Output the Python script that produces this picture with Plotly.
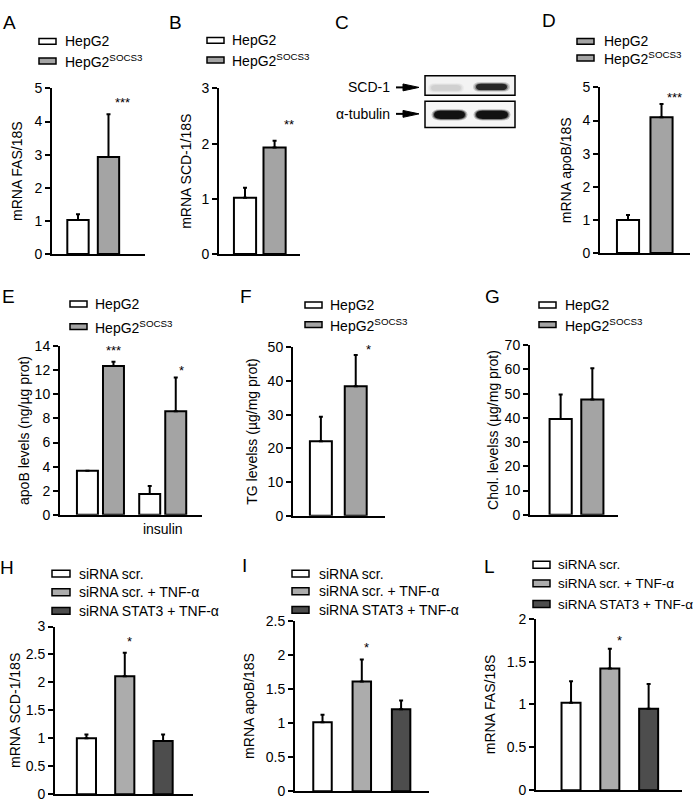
import plotly.graph_objects as go

W, H = 700, 811
FONT = "Liberation Sans, Arial, sans-serif"

# ---------------- data ----------------
cells = ["HepG2", "HepG2<sup>SOCS3</sup>"]
fas_mean = [1.03, 2.93]
fas_err = [0.17, 1.29]
scd_mean = [1.02, 1.93]
scd_err = [0.18, 0.12]
apob_mrna_mean = [1.00, 4.10]
apob_mrna_err = [0.15, 0.40]
conditions = ["basal", "insulin"]
condition_labels = ["", "insulin"]
apob_hepg2 = [3.66, 1.72]
apob_hepg2_err = [0.0, 0.68]
apob_socs3 = [12.35, 8.60]
apob_socs3_err = [0.35, 2.80]
tg_mean = [22.1, 38.4]
tg_err = [7.3, 9.3]
chol_mean = [39.5, 47.6]
chol_err = [10.2, 12.9]
treatments = ["siRNA scr.", "siRNA scr. + TNF-α", "siRNA STAT3 + TNF-α"]
si_scd_mean = [1.00, 2.11, 0.95]
si_scd_err = [0.07, 0.42, 0.12]
si_apob_mean = [1.01, 1.61, 1.20]
si_apob_err = [0.11, 0.32, 0.13]
si_fas_mean = [1.02, 1.42, 0.95]
si_fas_err = [0.25, 0.23, 0.29]

# ---------------- styles ----------------
C_WHITE = "#ffffff"
C_GRAY = "#a4a4a4"
C_GRAY2 = "#acacac"
C_DARK = "#4d4d4d"
cell_colors = [C_WHITE, C_GRAY]
treat_colors = [C_WHITE, C_GRAY2, C_DARK]


def X(p):
    return p / W


def Y(p):
    return 1 - p / H


fig = go.Figure()
shapes = []
annotations = []
axis_n = [0]


def bar(cats, vals, errs, color, width, offset=None):
    kw = {}
    if offset is not None:
        kw["offset"] = offset
    return go.Bar(
        x=cats, y=vals, width=width,
        marker=dict(color=color, line=dict(color="black", width=2)),
        error_y=dict(type="data", array=errs, arrayminus=[0] * len(errs),
                     symmetric=False, color="black", thickness=2, width=2),
        showlegend=False, hoverinfo="skip", **kw)


def add_panel(traces, xl, xr, ytop, y0, xrange, ymax, dtick, ytitle, standoff,
              cats, ticktext=None):
    axis_n[0] += 1
    n = axis_n[0]
    sfx = "" if n == 1 else str(n)
    xa, ya = "x" + sfx, "y" + sfx
    for t in traces:
        t.update(xaxis=xa, yaxis=ya)
        fig.add_trace(t)
    xdict = dict(domain=[X(xl), X(xr)], anchor=ya, range=xrange,
                 type="category", categoryorder="array", categoryarray=cats,
                 showline=True, linewidth=2, linecolor="black", ticks="",
                 showgrid=False, zeroline=False, fixedrange=True,
                 showticklabels=ticktext is not None,
                 tickfont=dict(size=14, color="black"))
    if ticktext is not None:
        xdict.update(tickmode="array", tickvals=cats, ticktext=ticktext)
    ydict = dict(domain=[Y(y0), Y(ytop)], anchor=xa, range=[0, ymax],
                 tick0=0, dtick=dtick, showline=True, linewidth=2,
                 linecolor="black", ticks="outside", ticklen=5, tickwidth=2,
                 tickcolor="black", showgrid=False, zeroline=False,
                 fixedrange=True, tickfont=dict(size=14, color="black"),
                 title=dict(text=ytitle, font=dict(size=14, color="black"),
                            standoff=standoff))
    fig.update_layout(**{"xaxis" + sfx: xdict, "yaxis" + sfx: ydict})
    return xa, ya


def star(xa, ya, cat, yv, text, xshift):
    annotations.append(dict(xref=xa, yref=ya, x=cat, y=yv, text=text,
                            showarrow=False, xshift=xshift,
                            font=dict(size=13, color="black")))


def legend(x_box, x_text, rows, labels, colors, bw=17, bh=6, fs=14):
    for yc, lab, col in zip(rows, labels, colors):
        shapes.append(dict(type="rect", xref="paper", yref="paper",
                           x0=X(x_box), x1=X(x_box + bw),
                           y0=Y(yc + bh / 2), y1=Y(yc - bh / 2),
                           fillcolor=col, line=dict(color="black", width=1.5)))
        annotations.append(dict(xref="paper", yref="paper", x=X(x_text),
                                y=Y(yc), text=lab, showarrow=False,
                                xanchor="left", yanchor="middle",
                                font=dict(size=fs, color="black")))


def letter(x, y, t):
    annotations.append(dict(xref="paper", yref="paper", x=X(x), y=Y(y),
                            text=t, showarrow=False, xanchor="center",
                            yanchor="middle",
                            font=dict(size=19, color="black")))


# ---------------- panel A ----------------
xa, ya = add_panel([bar([cells[i]], [fas_mean[i]], [fas_err[i]], cell_colors[i], 0.70)
                    for i in range(2)],
                   52, 145, 82, 251, [-0.852, 2.197], 5, 1, "mRNA FAS/18S", 8, cells)
star(xa, ya, cells[1], 4.56, "***", 14)
legend(39, 63, [34, 54], cells, cell_colors)
letter(9, 15, "A")

# ---------------- panel B ----------------
xa, ya = add_panel([bar([cells[i]], [scd_mean[i]], [scd_err[i]], cell_colors[i], 0.75)
                    for i in range(2)],
                   219, 300, 82, 251, [-0.88, 1.86], 3, 1, "mRNA SCD-1/18S", 6, cells)
star(xa, ya, cells[1], 2.35, "**", 14)
legend(207, 230, [33, 53], cells, cell_colors)
letter(175, 15, "B")

# ---------------- panel D ----------------
xa, ya = add_panel([bar([cells[i]], [apob_mrna_mean[i]], [apob_mrna_err[i]], cell_colors[i], 0.66)
                    for i in range(2)],
                   600, 690, 81, 250, [-0.836, 1.85], 5, 1, "mRNA apoB/18S", 8, cells)
star(xa, ya, cells[1], 4.7, "***", 13)
legend(577, 602, [34, 51], cells, [C_GRAY, C_GRAY])
letter(549, 13, "D")

# ---------------- panel E ----------------
xa, ya = add_panel([bar(conditions, apob_hepg2, apob_hepg2_err, C_WHITE, 0.337, -0.378),
                    bar(conditions, apob_socs3, apob_socs3_err, C_GRAY, 0.337, 0.04)],
                   60, 202, 345, 517, [-0.65, 1.63], 14, 2,
                   "apoB levels (ng/µg prot)", 2, conditions, condition_labels)
star(xa, ya, conditions[0], 13.66, "***", 13)
star(xa, ya, conditions[1], 12.0, "*", 19)
legend(70, 93, [302, 325], cells, cell_colors)
letter(8, 294, "E")

# ---------------- panel F ----------------
xa, ya = add_panel([bar([cells[i]], [tg_mean[i]], [tg_err[i]], cell_colors[i], 0.63)
                    for i in range(2)],
                   293, 385, 346, 518, [-0.8, 1.84], 50, 10,
                   "TG levelss (µg/mg prot)", 7, cells)
star(xa, ya, cells[1], 49.4, "*", 13)
legend(305, 328, [303, 323], cells, cell_colors)
letter(246, 294, "F")

# ---------------- panel G ----------------
xa, ya = add_panel([bar([cells[i]], [chol_mean[i]], [chol_err[i]], cell_colors[i], 0.70)
                    for i in range(2)],
                   530, 618, 344, 517, [-0.968, 1.81], 70, 10,
                   "Chol. levelss (µg/mg prot)", 3, cells)
legend(539, 563, [303, 323], cells, cell_colors)
letter(492, 294, "G")

# ---------------- panel H ----------------
xa, ya = add_panel([bar([treatments[i]], [si_scd_mean[i]], [si_scd_err[i]], treat_colors[i], 0.50)
                    for i in range(3)],
                   55, 193, 631, 802, [-0.82, 2.78], 3, 0.5, "mRNA SCD-1/18S", 2, treatments)
star(xa, ya, treatments[1], 2.74, "*", 5)
legend(52, 77, [577, 596, 615], treatments, treat_colors, bw=18, bh=7)
letter(7, 571, "H")

# ---------------- panel I ----------------
xa, ya = add_panel([bar([treatments[i]], [si_apob_mean[i]], [si_apob_err[i]], treat_colors[i], 0.47)
                    for i in range(3)],
                   295, 429, 625, 799, [-0.70, 2.71], 2.5, 0.5, "mRNA apoB/18S", 8, treatments)
star(xa, ya, treatments[1], 2.1, "*", 5)
legend(292, 317, [577, 595, 614], treatments, treat_colors, bw=17, bh=7)
letter(244, 569, "I")

# ---------------- panel L ----------------
xa, ya = add_panel([bar([treatments[i]], [si_fas_mean[i]], [si_fas_err[i]], treat_colors[i], 0.49)
                    for i in range(3)],
                   536, 682, 623, 798, [-0.903, 2.86], 2, 0.5, "mRNA FAS/18S", 8, treatments)
star(xa, ya, treatments[1], 1.75, "*", 10)
legend(533, 556, [568, 587, 608], treatments, treat_colors, bw=17, bh=7, fs=13.5)
letter(489, 570, "L")

# ---------------- panel C (western blot illustration) ----------------
letter(342, 15, "C")


def pill(x0, x1, yc, h):
    r = min(h * 1.6, (x1 - x0) / 2)
    return (f"M{X(x0 + r)},{Y(yc - h)} L{X(x1 - r)},{Y(yc - h)} "
            f"Q{X(x1)},{Y(yc - h)} {X(x1)},{Y(yc)} "
            f"Q{X(x1)},{Y(yc + h)} {X(x1 - r)},{Y(yc + h)} "
            f"L{X(x0 + r)},{Y(yc + h)} "
            f"Q{X(x0)},{Y(yc + h)} {X(x0)},{Y(yc)} "
            f"Q{X(x0)},{Y(yc - h)} {X(x0 + r)},{Y(yc - h)} Z")


def band(x0, x1, yc, h, color, layers):
    for grow, op in layers:
        shapes.append(dict(type="path", xref="paper", yref="paper",
                           path=pill(x0 - grow, x1 + grow, yc, h + grow * 0.6),
                           fillcolor=color, opacity=op, line=dict(width=0)))


# blot frames
for (y0, y1, bg) in [(69, 89, "#f3f3f3"), (95, 122, "#f6f6f6")]:
    shapes.append(dict(type="rect", xref="paper", yref="paper",
                       x0=X(425), x1=X(515), y0=Y(y1), y1=Y(y0),
                       fillcolor=bg, line=dict(color="black", width=1.5)))

band(431, 461, 81.5, 3.0, "#9a9a9a", [(3, 0.10), (1.5, 0.15), (0, 0.2)])
band(476, 507, 80.5, 3.2, "#141414", [(3, 0.18), (1.5, 0.35), (0, 0.85)])
band(434, 465, 109, 4.2, "#0e0e0e", [(2.5, 0.25), (1.2, 0.45), (0, 0.95)])
band(476, 508, 109, 4.2, "#0e0e0e", [(2.5, 0.25), (1.2, 0.45), (0, 0.95)])

for yc, lab in [(81, "SCD-1"), (108, "α-tubulin")]:
    annotations.append(dict(xref="paper", yref="paper", x=X(392), y=Y(yc),
                            text=lab, showarrow=False, xanchor="right",
                            yanchor="middle", font=dict(size=14, color="black")))
    shapes.append(dict(type="line", xref="paper", yref="paper",
                       x0=X(396), x1=X(406), y0=Y(yc), y1=Y(yc),
                       line=dict(color="black", width=2)))
    shapes.append(dict(type="path", xref="paper", yref="paper",
                       path=f"M{X(403)},{Y(yc - 3.5)} L{X(419)},{Y(yc)} L{X(403)},{Y(yc + 3.5)} Z",
                       fillcolor="black", line=dict(color="black", width=1)))

fig.update_layout(
    width=W, height=H, autosize=False,
    margin=dict(l=0, r=0, t=0, b=0),
    paper_bgcolor="white", plot_bgcolor="white",
    font=dict(family=FONT, size=14, color="black"),
    barmode="overlay", showlegend=False,
    shapes=shapes, annotations=annotations,
)

fig.write_html("out.html",
               config={"displayModeBar": False},
               post_script="document.body.style.margin='0';document.body.style.overflow='hidden';")
